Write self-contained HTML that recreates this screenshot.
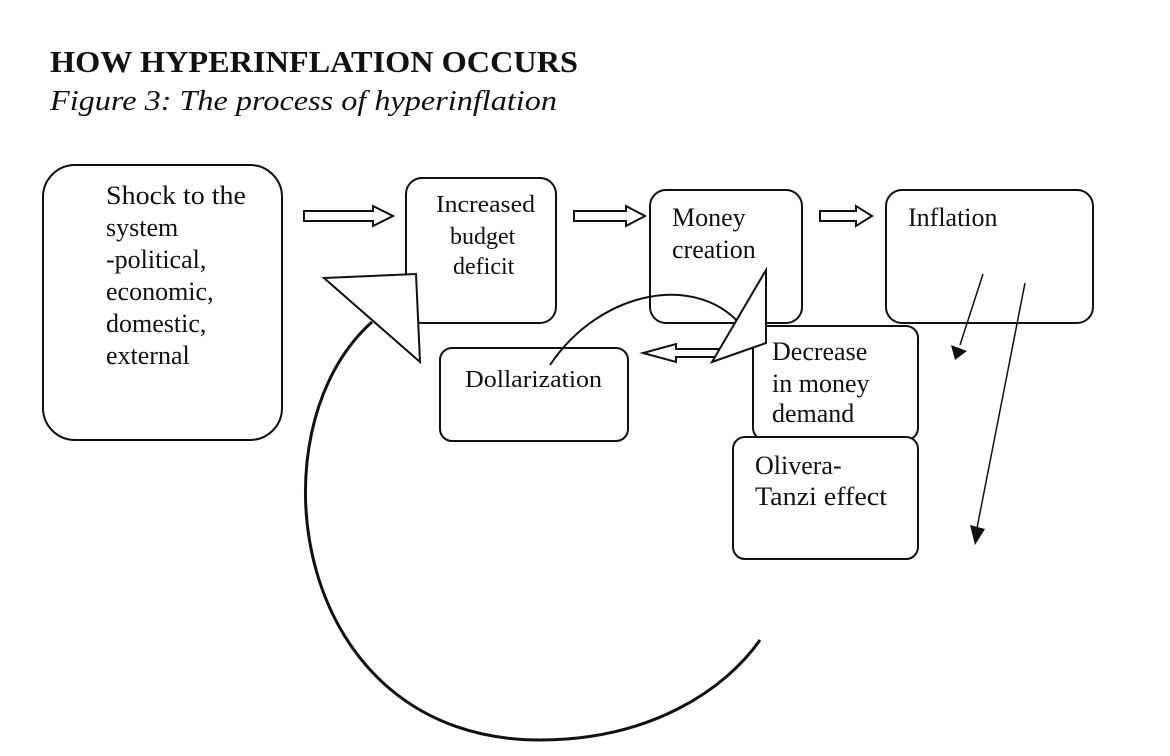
<!DOCTYPE html>
<html><head><meta charset="utf-8"><style>
body{margin:0;background:#fff;}
svg{display:block}
text{font-family:"Liberation Serif",serif;fill:#111}
</style></head><body>
<svg width="1170" height="756" viewBox="0 0 1170 756" xmlns="http://www.w3.org/2000/svg">
<text x="50" y="72" font-size="31" font-weight="bold" textLength="528" lengthAdjust="spacingAndGlyphs">HOW HYPERINFLATION OCCURS</text>
<text x="50" y="110" font-size="29" font-style="italic" textLength="507" lengthAdjust="spacingAndGlyphs">Figure 3: The process of hyperinflation</text>
<g fill="#fff" stroke="#111" stroke-width="2">
<rect x="43" y="165" width="239" height="275" rx="32"/>
<rect x="406" y="178" width="150" height="145" rx="16"/>
<rect x="650" y="190" width="152" height="133" rx="16"/>
<rect x="886" y="190" width="207" height="133" rx="16"/>
<rect x="440" y="348" width="188" height="93" rx="12"/>
<rect x="753" y="326" width="165" height="114" rx="12"/>
<rect x="733" y="437" width="185" height="122" rx="12"/>
<path d="M304,211 H373 V206 L393,216 L373,226 V221 H304 Z"/>
<path d="M574,211 H626 V206 L645,216 L626,226 V221 H574 Z"/>
<path d="M820,211 H856 V206 L872,216 L856,226 V221 H820 Z"/>
<path d="M725,349 H676 V344 L643,353 L676,362 V357 H725 Z"/>
</g>
<g fill="none" stroke="#111">
<path d="M372,322 C250,430 290,740 540,740 C650,740 725,690 760,640" stroke-width="3"/>
<path d="M550,365 C600,290 700,270 745,330" stroke-width="2"/>
<line x1="983" y1="274" x2="960" y2="345" stroke-width="1.5"/>
<line x1="1025" y1="283" x2="977" y2="528" stroke-width="1.5"/>
</g>
<g fill="#fff" stroke="#111" stroke-width="2">
<polygon points="324,278 416,274 420,362"/>
<polygon points="766,270 766,343 712,362"/>
</g>
<polygon points="951,345 967,351 955,360" fill="#111"/>
<polygon points="970,525 985,529 975,545" fill="#111"/>
<g font-size="26">
<text x="106" y="204" textLength="140" lengthAdjust="spacingAndGlyphs">Shock to the</text>
<text x="106" y="236">system</text>
<text x="106" y="268">-political,</text>
<text x="106" y="300">economic,</text>
<text x="106" y="332">domestic,</text>
<text x="106" y="364">external</text>
<text x="436" y="212" font-size="24" textLength="99" lengthAdjust="spacingAndGlyphs">Increased</text>
<text x="450" y="244" font-size="24">budget</text>
<text x="453" y="274" font-size="24">deficit</text>
<text x="672" y="226">Money</text>
<text x="672" y="258">creation</text>
<text x="908" y="226">Inflation</text>
<text x="465" y="387" font-size="24" textLength="137" lengthAdjust="spacingAndGlyphs">Dollarization</text>
<text x="772" y="360">Decrease</text>
<text x="772" y="392">in money</text>
<text x="772" y="422">demand</text>
<text x="755" y="474">Olivera-</text>
<text x="755" y="505" textLength="132" lengthAdjust="spacingAndGlyphs">Tanzi effect</text>
</g>
</svg>
</body></html>
